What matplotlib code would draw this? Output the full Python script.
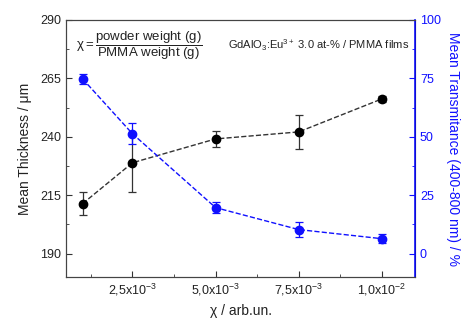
import matplotlib
matplotlib.use('Agg')
import matplotlib.pyplot as plt
from matplotlib.ticker import FixedLocator, MultipleLocator

plt.rcParams['font.family'] = ['Liberation Sans', 'DejaVu Sans']
plt.rcParams['mathtext.fontset'] = 'custom'
plt.rcParams['mathtext.rm'] = 'Liberation Sans'
plt.rcParams['mathtext.it'] = 'Liberation Sans:italic'

# data
chi = [1.0e-3, 2.5e-3, 5.0e-3, 7.5e-3, 1.0e-2]
thickness = [211.4, 228.9, 239.1, 242.1, 256.2]
thickness_err = [4.8, 12.4, 3.4, 7.2, 1.3]
transmit = [74.8, 51.3, 19.7, 10.3, 6.4]
transmit_err = [2.3, 4.5, 2.2, 3.2, 2.0]
xtick_vals = [2.5e-3, 5.0e-3, 7.5e-3, 1.0e-2]
xtick_labels = ['2,5x10$^{-3}$', '5,0x10$^{-3}$', '7,5x10$^{-3}$', '1,0x10$^{-2}$']
ytick_left = [190, 215, 240, 265, 290]
ytick_right = [0, 25, 50, 75, 100]

blue = '#1010ff'

fig = plt.figure(figsize=(4.67, 3.23), dpi=100)
ax = fig.add_axes([66/467, 1 - 277/323, (415 - 66)/467, (277 - 20)/323])
ax2 = ax.twinx()

ax.errorbar(chi, thickness, yerr=thickness_err, fmt='o', color='black', ms=6,
            ecolor='#333333', elinewidth=0.9, capsize=3, capthick=0.9, zorder=3)
ax.plot(chi, thickness, '--', color='#333333', lw=1.0, zorder=2)
ax2.errorbar(chi, transmit, yerr=transmit_err, fmt='o', color=blue, ms=6,
             ecolor=blue, elinewidth=0.9, capsize=3, capthick=0.9, zorder=3)
ax2.plot(chi, transmit, '--', color=blue, lw=1.0, zorder=2)

ax.set_xlim(0.5e-3, 1.1e-2)
ax.set_ylim(180, 290)
ax2.set_ylim(-10, 100)

ax.xaxis.set_major_locator(FixedLocator(xtick_vals))
ax.set_xticklabels(xtick_labels)
ax.xaxis.set_minor_locator(MultipleLocator(1.25e-3))
ax.yaxis.set_major_locator(FixedLocator(ytick_left))
ax.yaxis.set_minor_locator(FixedLocator([v + 12.5 for v in ytick_left[:-1]]))
ax2.yaxis.set_major_locator(FixedLocator(ytick_right))
ax2.yaxis.set_minor_locator(FixedLocator([v + 12.5 for v in ytick_right[:-1]]))

ax.tick_params(which='both', direction='in', labelsize=9, colors='#333333', top=False)
ax.tick_params(which='major', length=4)
ax.tick_params(which='minor', length=2.5)
ax2.tick_params(which='both', direction='in', labelsize=9, colors=blue)
ax2.tick_params(which='major', length=4)
ax2.tick_params(which='minor', length=2.5)
for lbl in ax.get_xticklabels() + ax.get_yticklabels():
    lbl.set_color('#222222')

for s in ['left', 'bottom', 'top']:
    ax.spines[s].set_color('#444444')
    ax2.spines[s].set_color('#444444')
ax2.spines['right'].set_color(blue)
ax2.spines['right'].set_linewidth(1.2)

ax.set_ylabel('Mean Thickness / μm', fontsize=10, color='#222222', labelpad=6)
ax2.set_ylabel('Mean Transmitance (400-800 nm) / %', fontsize=10, color=blue,
               rotation=-90, labelpad=14)
ax.set_xlabel('χ / arb.un.', fontsize=10, color='#222222', labelpad=4)

ax.text(0.03, 0.9, r'$\mathrm{χ} = \dfrac{\mathrm{powder\ weight\ (g)}}{\mathrm{PMMA\ weight\ (g)}}$',
        transform=ax.transAxes, fontsize=9.5, va='center', ha='left', color='#222222')
ax.text(0.465, 0.9, 'GdAlO$_3$:Eu$^{3+}$ 3.0 at-% / PMMA films',
        transform=ax.transAxes, fontsize=8, va='center', ha='left', color='#222222')

fig.savefig('out.png', dpi=100)
